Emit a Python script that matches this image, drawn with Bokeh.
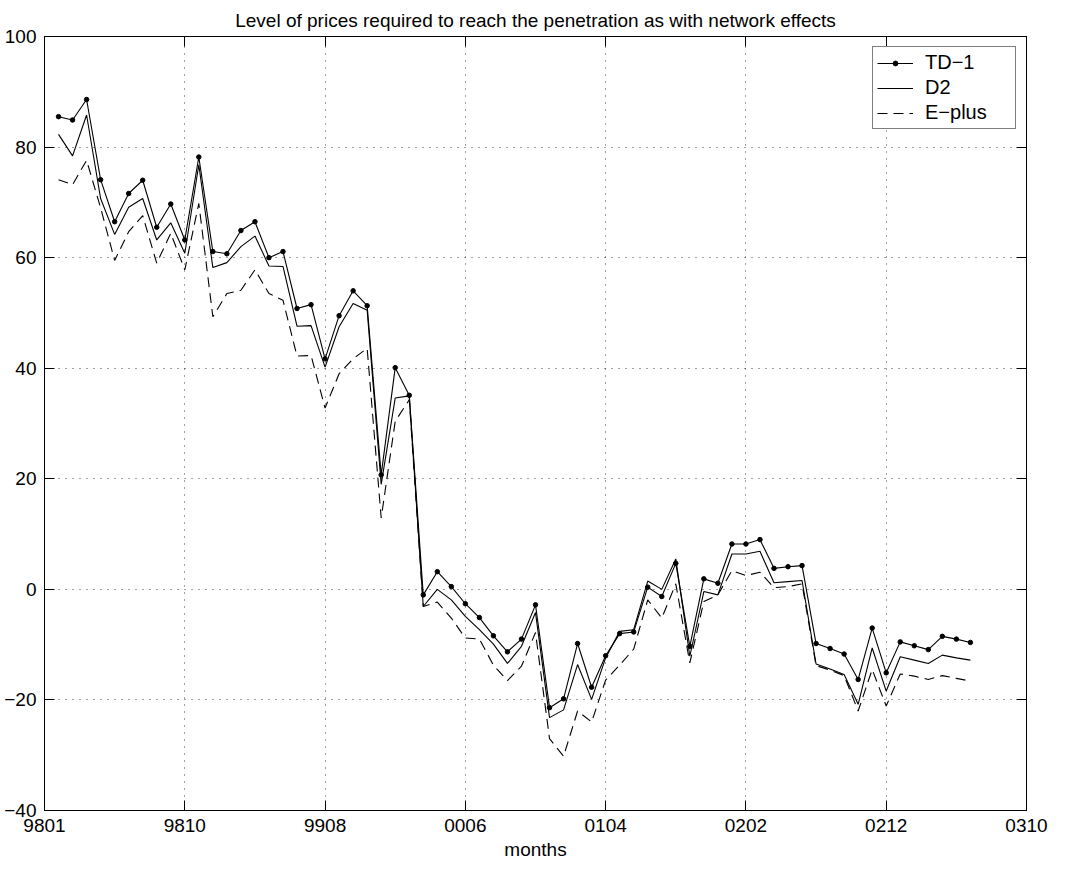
from bokeh.plotting import figure
from bokeh.models import Range1d, FixedTicker, LinearAxis, Legend, CustomLabelingPolicy
from bokeh.embed import file_html
from bokeh.resources import INLINE

# ---- data -------------------------------------------------------------
tick_pos = [0, 10, 20, 30, 40, 50, 60, 70]
tick_labels = ["9801", "9810", "9908", "0006", "0104", "0202", "0212", "0310"]
month_idx = list(range(1, 67))

td1 = [85.5, 84.9, 88.6, 74.1, 66.5, 71.6, 74.0, 65.5, 69.7, 63.2,
       78.2, 61.1, 60.7, 64.9, 66.5, 60.0, 61.1, 50.8, 51.5, 41.7,
       49.5, 54.0, 51.3, 20.7, 40.1, 35.1, -1.0, 3.2, 0.5, -2.6,
       -5.1, -8.4, -11.3, -9.0, -2.8, -21.4, -19.8, -9.8, -17.7, -12.0,
       -8.0, -7.7, 0.4, -1.3, 4.7, -10.3, 1.9, 1.1, 8.2, 8.2,
       9.0, 3.8, 4.1, 4.3, -9.8, -10.7, -11.7, -16.3, -7.0, -15.1,
       -9.5, -10.2, -10.9, -8.5, -9.0, -9.6]

d2 = [82.3, 78.4, 85.8, 70.7, 64.2, 69.1, 70.7, 63.2, 66.3, 60.8,
      76.8, 58.2, 59.1, 62.0, 63.9, 58.5, 58.4, 47.6, 47.7, 40.2,
      47.5, 51.7, 50.5, 19.0, 34.6, 35.0, -3.1, 0.0, -1.9, -4.9,
      -7.3, -9.9, -13.4, -10.3, -4.2, -23.2, -21.8, -13.6, -19.9, -12.4,
      -7.6, -7.3, 1.5, 0.0, 5.5, -12.1, -0.4, -1.0, 6.4, 6.4,
      6.9, 1.2, 1.4, 1.6, -13.5, -14.4, -15.4, -20.8, -10.6, -18.4,
      -12.2, -12.8, -13.4, -11.9, -12.4, -12.8]

eplus = [74.1, 73.2, 77.6, 69.0, 59.5, 64.7, 67.6, 59.0, 64.4, 57.8,
         69.8, 49.3, 53.5, 54.1, 57.8, 53.5, 52.3, 42.2, 42.3, 32.8,
         39.0, 41.7, 43.6, 12.9, 30.4, 34.3, -3.1, -2.3, -5.2, -8.8,
         -9.0, -13.7, -16.5, -13.9, -7.8, -27.0, -30.2, -22.0, -24.0, -16.4,
         -13.7, -10.8, -1.9, -5.2, 1.0, -13.3, -2.2, -1.0, 3.4, 2.5,
         3.1, 0.3, 0.5, 1.0, -13.8, -14.6, -15.6, -22.0, -14.5, -21.1,
         -15.3, -15.7, -16.3, -15.6, -16.1, -16.6]

y_ticks = [-40, -20, 0, 20, 40, 60, 80, 100]

FONT = "Liberation Sans"
FS = "19px"

p = figure(width=1050, height=866, output_backend="svg", toolbar_location=None,
           x_range=Range1d(0, 70), y_range=Range1d(-40, 100),
           title="Level of prices required to reach the penetration as with network effects",
           min_border_left=44, min_border_right=24, min_border_top=36, min_border_bottom=56)

p.title.align = "center"
p.title.text_font = FONT
p.title.text_font_size = FS
p.title.text_font_style = "normal"
p.title.text_color = "black"
p.title.standoff = 11

p.background_fill_color = "white"
p.border_fill_color = "white"
p.outline_line_color = "black"
p.outline_line_width = 1

no_labels = CustomLabelingPolicy(code="""
    for (const i of Array.from(indices)) { indices.unset(i) }
    return indices
""")

def style_axis(ax, fs=FS):
    ax.axis_line_color = "black"
    ax.axis_line_width = 1
    ax.major_tick_in = 10
    ax.major_tick_out = 0
    ax.major_tick_line_color = "black"
    ax.minor_tick_line_color = None
    ax.major_label_text_font = FONT
    ax.major_label_text_font_size = fs
    ax.major_label_text_color = "black"
    ax.major_label_standoff = 8

# bottom axis
xa = p.xaxis[0]
xa.ticker = FixedTicker(ticks=tick_pos)
xa.major_label_overrides = {t: l for t, l in zip(tick_pos, tick_labels)}
style_axis(xa)
xa.axis_label = "months"
xa.axis_label_text_font = FONT
xa.axis_label_text_font_size = FS
xa.axis_label_text_font_style = "normal"
xa.axis_label_text_color = "black"
xa.axis_label_standoff = 4

ya = p.yaxis[0]
ya.ticker = FixedTicker(ticks=y_ticks)
ya.major_label_overrides = {t: (str(t).replace("-", "\u2212")) for t in y_ticks}
style_axis(ya)

top = LinearAxis(ticker=FixedTicker(ticks=tick_pos), major_label_policy=no_labels)
style_axis(top, fs="0px")
top.major_label_standoff = 0
p.add_layout(top, "above")
right = LinearAxis(ticker=FixedTicker(ticks=y_ticks), major_label_policy=no_labels)
style_axis(right, fs="0px")
right.major_label_standoff = 0
p.add_layout(right, "right")

for g in (p.xgrid[0], p.ygrid[0]):
    g.grid_line_color = "black"
    g.grid_line_alpha = 0.75
    g.grid_line_dash = "1 6"
    g.grid_line_width = 1
p.xgrid[0].ticker = FixedTicker(ticks=tick_pos)
p.ygrid[0].ticker = FixedTicker(ticks=y_ticks)

r1 = p.line(month_idx, td1, line_color="black", line_width=1.1)
r1m = p.scatter(month_idx, td1, size=4.5, fill_color="black", line_color="black")
r2 = p.line(month_idx, d2, line_color="black", line_width=1.1)
r3 = p.line(month_idx, eplus, line_color="black", line_width=1.1, line_dash="10 6")

legend = Legend(items=[("TD\u22121", [r1, r1m]), ("D2", [r2]), ("E\u2212plus", [r3])],
                location="top_right")
legend.label_text_font = FONT
legend.label_text_font_size = "20px"
legend.label_text_color = "black"
legend.border_line_color = "black"
legend.border_line_width = 1
legend.background_fill_color = "white"
legend.background_fill_alpha = 1
legend.padding = 4
legend.spacing = 2
legend.margin = 10
legend.glyph_width = 36
legend.glyph_height = 12
legend.label_height = 20
legend.label_width = 86
legend.label_standoff = 12
p.add_layout(legend, "center")

open("out.html", "w").write(file_html(p, INLINE))
